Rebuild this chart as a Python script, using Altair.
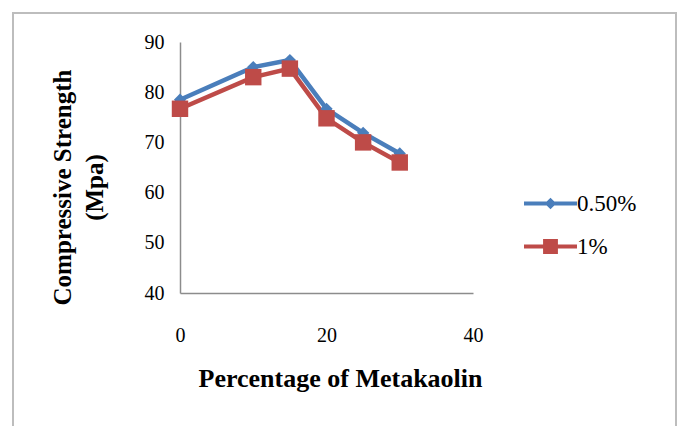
import altair as alt
import pandas as pd

metakaolin = [0, 10, 15, 20, 25, 30]
s_050 = [78.5, 85.0, 86.4, 76.7, 71.9, 67.8]
s_1 = [76.7, 83.0, 84.7, 74.8, 70.0, 66.0]
series_names = ["0.50%", "1%"]
colors = ["#4a7ebb", "#be4b48"]

rows = []
for name, vals in zip(series_names, [s_050, s_1]):
    for x, v in zip(metakaolin, vals):
        rows.append({"pct": x, "strength": v, "series": name})
df = pd.DataFrame(rows)
df_b = df[df.series == series_names[0]]
df_r = df[df.series == series_names[1]]

diamond_leg = "M-1,-0.08 H1 V0.08 H-1 Z M0,-0.22 L0.22,0 L0,0.22 L-0.22,0 Z"
square_leg = "M-1,-0.08 H1 V0.08 H-1 Z M-0.28,-0.28 H0.28 V0.28 H-0.28 Z"

xs = alt.X("pct:Q", scale=alt.Scale(domain=[0, 40], nice=False),
           axis=alt.Axis(values=[0, 20, 40], title="Percentage of Metakaolin",
                         ticks=False, grid=False, labelPadding=32, labelFlush=False,
                         titleFontWeight="bold", titleFontSize=26, titlePadding=20,
                         titleX=160, domainColor="#8c8c8c", domainWidth=1.5))
ys = alt.Y("strength:Q", scale=alt.Scale(domain=[40, 90], nice=False, zero=False),
           axis=alt.Axis(values=[40, 50, 60, 70, 80, 90],
                         title=["Compressive Strength", "(Mpa)"],
                         ticks=False, grid=False, labelPadding=16, labelFlush=False,
                         titleFontWeight="bold", titleFontSize=25, titleLineHeight=32,
                         titleAngle=-90, titleX=-130, titleY=145, titleBaseline="top",
                         domainColor="#8c8c8c", domainWidth=1.5))
leg = alt.Legend(title=None, orient="none", legendX=344, legendY=135,
                 symbolSize=2809, labelFontSize=23, labelFont="Liberation Serif",
                 rowPadding=4, labelOffset=0, padding=0,
                 symbolStrokeWidth=0, symbolOpacity=1)
color = alt.Color("series:N", scale=alt.Scale(domain=series_names, range=colors), legend=leg)
shape = alt.Shape("series:N", scale=alt.Scale(domain=series_names, range=[diamond_leg, square_leg]),
                  legend=leg)

line_b = alt.Chart(df_b).mark_line(strokeWidth=4.5, color=colors[0]).encode(x=xs, y=ys)
line_r = alt.Chart(df_r).mark_line(strokeWidth=4.5, color=colors[1]).encode(x="pct:Q", y="strength:Q")

pts_blue = alt.Chart(df_b).mark_point(shape="diamond", filled=True, size=150, opacity=1).encode(
    x="pct:Q", y="strength:Q", color=alt.value(colors[0]))
pts_red = alt.Chart(df_r).mark_point(shape="square", filled=True, size=270, opacity=1).encode(
    x="pct:Q", y="strength:Q", color=alt.value(colors[1]))

legend_layer = alt.Chart(df).mark_point(filled=True, opacity=0, size=1).encode(
    x="pct:Q", y="strength:Q", color=color, shape=shape)

frame = alt.Chart(pd.DataFrame({"a": [0]})).mark_rect(fill=None, stroke="#bdbdbd", strokeWidth=2).encode(
    x=alt.value(-167), x2=alt.value(496), y=alt.value(-29), y2=alt.value(400))

chart = alt.layer(frame, line_b, line_r, pts_blue, pts_red, legend_layer).properties(
    width=293, height=251,
    autosize=alt.AutoSizeParams(type="none"),
    padding={"left": 180, "top": 42, "right": 208, "bottom": 133},
    background="white",
).configure_view(stroke=None).configure_axis(
    labelFont="Liberation Serif", titleFont="Liberation Serif", labelFontSize=20,
    labelColor="#000", titleColor="#000"
).configure_legend(labelColor="#000")

chart.save("out.html", embed_options={"renderer": "svg", "actions": False})
